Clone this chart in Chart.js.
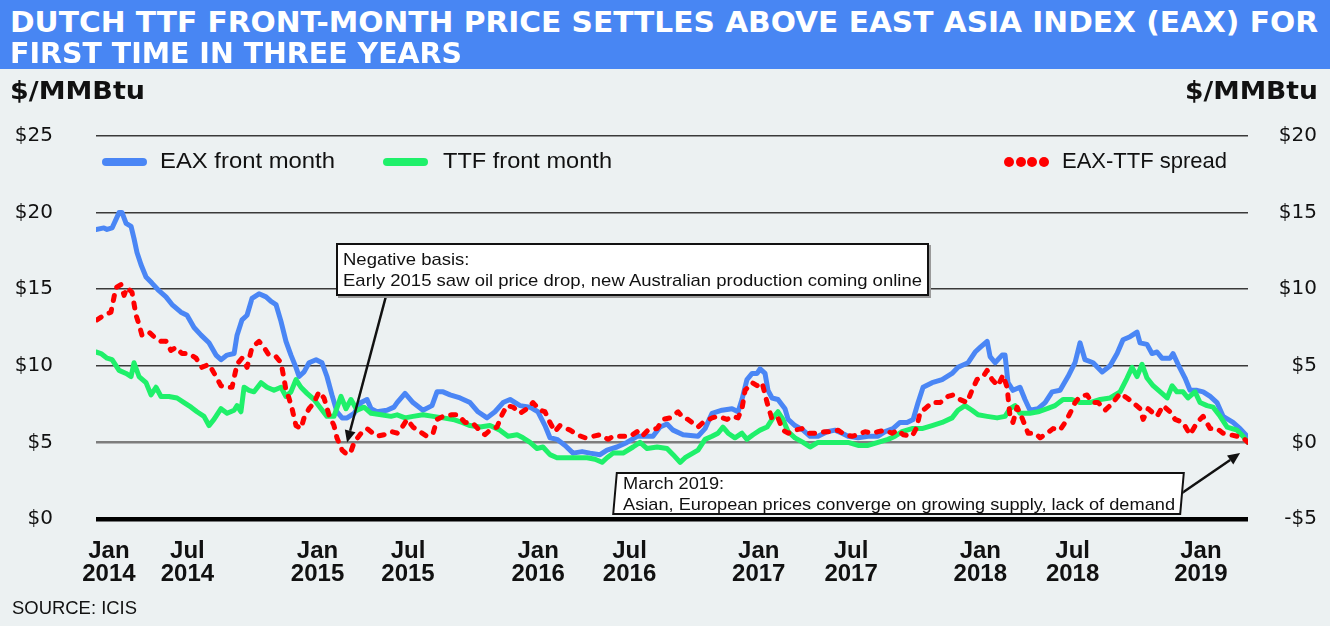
<!DOCTYPE html>
<html><head><meta charset="utf-8">
<script src="https://cdn.jsdelivr.net/npm/chart.js@4.4.1/dist/chart.umd.min.js"></script>
<style>
html,body{margin:0;padding:0;background:#ecf1f2;}
#wrap{position:relative;width:1330px;height:626px;overflow:hidden;background:#ecf1f2;}
#chart{position:absolute;left:0;top:0;}
#banner{position:absolute;left:0;top:0;width:1330px;height:69px;background:#4886f3;}
.t{position:absolute;white-space:nowrap;line-height:1;transform-origin:0 0;color:#111;font-family:'Liberation Sans',Arial,sans-serif;}
.title{font-family:'DejaVu Sans',sans-serif;font-weight:700;font-size:29px;color:#fff;}
.unit{font-family:'DejaVu Sans',sans-serif;font-weight:700;font-size:24px;}
.leg{font-size:22px;}
.note{font-size:17px;}
.box{position:absolute;box-sizing:border-box;background:#fff;border:2px solid #111;}
.bar{position:absolute;height:8px;border-radius:4px;}
.dot{position:absolute;width:10px;height:10px;border-radius:5px;background:#ff0000;}
</style>
</head><body>
<div id="wrap">
<canvas id="chart" width="1330" height="626"></canvas>
<div id="banner"></div>
<span class="t title" id="title1" style="left:10px;top:7.5px">DUTCH TTF FRONT-MONTH PRICE SETTLES ABOVE EAST ASIA INDEX (EAX) FOR</span>
<span class="t title" id="title2" style="left:10px;top:38.5px">FIRST TIME IN THREE YEARS</span>
<span class="t unit" id="unitL" style="left:10px;top:78.7px">$/MMBtu</span>
<span class="t unit" id="unitR" style="left:1185px;top:78.7px">$/MMBtu</span>

<div class="bar" style="left:102px;top:157.7px;width:45px;background:#4a86f5"></div>
<span class="t leg" id="leg1" style="left:160px;top:150.4px">EAX front month</span>
<div class="bar" style="left:383px;top:157.7px;width:45px;background:#1ff06a"></div>
<span class="t leg" id="leg2" style="left:443px;top:150.4px">TTF front month</span>
<div class="dot" style="left:1004px;top:156.7px"></div>
<div class="dot" style="left:1015.7px;top:156.7px"></div>
<div class="dot" style="left:1027.4px;top:156.7px"></div>
<div class="dot" style="left:1039px;top:156.7px"></div>
<span class="t leg" id="leg3" style="left:1062px;top:150.4px">EAX-TTF spread</span>

<div class="box" style="left:336px;top:243px;width:593px;height:53px;box-shadow:2px 2px 0 #9a9a9a"></div>
<span class="t note" id="n1a" style="left:343px;top:250.6px">Negative basis:</span>
<span class="t note" id="n1b" style="left:343px;top:272.3px">Early 2015 saw oil price drop, new Australian production coming online</span>

<div class="box" style="left:614px;top:472px;width:569px;height:43px;transform:skewX(-5deg)"></div>
<span class="t note" id="n2a" style="left:623px;top:474.6px">March 2019:</span>
<span class="t note" id="n2b" style="left:623px;top:495.6px">Asian, European prices converge on growing supply, lack of demand</span>

<span class="t" id="src" style="left:12px;top:598px;font-size:19px">SOURCE: ICIS</span>
</div>
<script>
// ---------- data (months since 1 Jan 2014) ----------
const eaxMonths = [0,0.43,0.6,0.87,1.25,1.41,1.63,1.9,2.06,2.22,2.44,2.71,3.03,3.41,3.79,4.12,4.6,4.93,5.31,5.69,6.12,6.5,6.77,7.1,7.48,7.64,7.91,8.18,8.45,8.83,9.21,9.48,9.75,10.02,10.29,10.56,10.83,11,11.27,11.54,11.92,12.24,12.51,12.78,13.05,13.33,13.6,13.98,14.36,14.68,14.9,15.22,15.76,16.14,16.31,16.74,17.17,17.71,18.2,18.47,18.8,19.18,19.72,20.26,20.69,21.18,21.61,22.05,22.43,22.97,23.51,23.94,24.32,24.59,24.97,25.41,25.84,26.33,26.76,27.3,27.68,28.22,28.76,29.31,29.85,30.17,30.55,30.93,31.26,31.8,32.61,32.99,33.37,33.91,34.45,34.78,34.99,35.26,35.54,35.81,35.97,36.24,36.4,36.62,36.94,37.32,37.49,37.86,38.3,38.68,39.11,39.6,40.03,40.41,40.74,41.28,41.82,42.36,42.74,43.17,43.55,43.93,44.26,44.53,44.8,45.29,45.83,46.37,46.69,47.24,47.62,47.89,48.27,48.43,48.7,49.08,49.24,49.4,49.67,50.05,50.32,50.59,51.03,51.41,51.79,52.22,52.65,53.03,53.3,53.57,54.01,54.5,54.93,55.31,55.63,56.01,56.39,56.55,56.93,57.2,57.47,57.74,58.18,58.34,58.61,58.99,59.26,59.64,59.97,60.35,60.72,61.05,61.59,61.97,62.35,62.4];
const eaxPrices = [18.9,19.0,18.9,19.0,20.0,20.0,19.3,19.1,18.3,17.4,16.6,15.8,15.4,14.9,14.5,14.0,13.5,13.3,12.5,12.0,11.5,10.7,10.4,10.7,10.8,12.0,13.0,13.3,14.4,14.7,14.5,14.2,14.0,12.9,11.6,10.7,9.9,9.3,9.6,10.2,10.4,10.2,9.3,8.1,7.0,6.6,6.6,6.9,7.6,7.8,7.2,7.0,7.1,7.3,7.6,8.2,7.6,7.1,7.4,8.3,8.3,8.1,7.9,7.6,7.0,6.6,7.0,7.6,7.8,7.4,7.3,7.0,6.1,5.3,5.2,4.8,4.3,4.4,4.3,4.2,4.5,4.7,5.0,5.4,5.4,5.4,6.0,6.2,5.8,5.5,5.4,5.9,6.9,7.1,7.2,7.0,7.8,9.1,9.5,9.5,9.8,9.5,8.4,7.9,7.8,7.2,6.5,6.1,5.8,5.4,5.4,5.7,5.8,5.6,5.4,5.3,5.4,5.4,5.7,5.9,6.3,6.3,6.5,7.6,8.6,8.9,9.1,9.5,9.9,10.2,10.9,11.2,11.6,10.6,10.2,10.7,10.7,8.9,8.4,8.6,7.8,7.1,7.2,7.6,8.3,8.4,9.3,10.2,11.5,10.4,10.2,9.6,10.0,10.8,11.7,11.9,12.2,11.5,11.4,10.8,10.9,10.5,10.5,10.8,10.1,9.2,8.4,8.4,8.3,8.0,7.6,6.7,6.3,5.9,5.4,5.0];

const ttfMonths = [0,0.27,0.6,0.87,1.25,1.63,1.9,2.06,2.33,2.71,2.98,3.25,3.52,3.95,4.39,4.77,5.15,5.47,5.85,6.12,6.39,6.77,7.1,7.48,7.64,7.85,8.02,8.29,8.56,8.94,9.26,9.64,10.02,10.29,10.56,10.83,11.1,11.43,11.81,12.19,12.51,12.89,13.27,13.54,13.81,14.14,14.52,14.9,15.44,15.98,16.31,16.74,17.17,17.71,18.26,18.8,19.34,19.83,20.26,20.8,21.34,21.88,22.32,22.81,23.13,23.51,23.89,24.21,24.59,24.97,25.51,26.06,26.6,27.03,27.41,27.68,28.01,28.55,29.09,29.47,29.85,30.39,30.93,31.26,31.64,31.91,32.61,32.99,33.37,33.69,33.96,34.24,34.61,34.99,35.26,35.59,35.97,36.35,36.67,36.94,37.21,37.49,37.86,38.3,38.68,39.11,39.65,40.19,40.74,41.28,41.82,42.36,42.9,43.28,43.66,44.2,44.74,45.29,45.83,46.37,46.69,47.07,47.45,47.78,48.27,48.81,49.24,49.51,49.78,50.05,50.59,51.03,51.52,51.95,52.38,52.87,53.3,53.84,54.39,54.93,55.47,55.85,56.12,56.39,56.66,56.93,57.26,57.74,58.02,58.29,58.55,58.88,59.15,59.53,59.8,60.18,60.51,60.89,61.27,61.81,62.13,62.4];
const ttfPrices = [10.9,10.8,10.5,10.4,9.7,9.5,9.3,10.2,9.3,8.9,8.1,8.6,8.0,8.0,7.9,7.6,7.3,7.0,6.7,6.1,6.5,7.2,6.9,7.1,7.4,7.0,8.6,8.4,8.3,8.9,8.6,8.4,8.6,8.0,8.3,9.1,8.6,8.2,7.8,7.2,6.7,6.7,8.0,7.2,7.8,7.1,7.3,6.9,6.8,6.7,6.8,6.6,6.7,6.8,6.7,6.6,6.5,6.3,6.1,6.0,6.1,5.8,5.4,5.5,5.3,5.0,4.6,4.7,4.2,4.0,4.0,4.0,4.0,3.9,3.7,4.0,4.3,4.3,4.7,5.0,4.6,4.7,4.6,4.2,3.7,4.0,4.5,5.2,5.4,5.6,6.0,5.6,5.3,5.6,5.2,5.5,5.8,6.0,6.6,7.0,6.5,5.7,5.3,5.0,4.7,5.0,5.0,5.0,5.0,4.8,4.8,5.0,5.2,5.4,5.7,5.9,5.9,6.1,6.3,6.6,7.1,7.4,7.1,6.8,6.7,6.6,6.7,7.2,7.4,6.9,6.9,7.0,7.2,7.4,7.8,7.8,7.6,7.6,7.8,7.9,8.3,9.2,9.9,9.3,10.1,9.2,8.7,8.2,7.9,8.7,8.3,8.3,7.9,8.3,7.6,7.4,7.3,6.7,6.0,5.8,5.4,5.0];

const spreadMonths = [0.05,0.43,0.81,1.08,1.35,1.52,1.68,1.95,2.17,2.33,2.49,2.87,3.14,3.52,3.79,4.06,4.33,4.66,5.04,5.42,5.74,6.12,6.5,6.77,7.1,7.37,7.64,7.91,8.18,8.45,8.83,9.1,9.37,9.75,10.02,10.18,10.29,10.45,10.62,10.83,11.1,11.27,11.54,11.81,12.08,12.35,12.62,12.89,13.05,13.33,13.6,13.81,13.98,14.36,14.68,15.22,15.6,16.03,16.31,16.58,16.85,17.17,17.55,17.93,18.26,18.47,18.8,19.29,19.61,19.99,20.37,20.69,21.07,21.34,21.72,21.99,22.26,22.59,22.97,23.35,23.67,24.05,24.32,24.59,24.86,25.13,25.68,26.06,26.49,26.92,27.3,27.74,28.01,28.49,28.93,29.31,29.58,29.9,30.39,30.71,31.09,31.53,31.8,32.07,32.29,32.61,32.88,33.37,33.69,34.18,34.45,34.78,34.99,35.16,35.54,35.81,36.08,36.35,36.62,36.94,37.21,37.49,37.86,38.24,38.57,39.06,39.49,39.87,40.19,40.57,40.95,41.28,41.66,42.04,42.36,42.74,43.12,43.44,43.72,44.2,44.47,44.64,44.91,45.29,45.72,46.15,46.42,46.8,47.18,47.45,47.72,48.05,48.27,48.54,48.86,49.13,49.35,49.51,49.67,49.89,50.16,50.49,50.87,51.14,51.52,51.84,52.22,52.49,52.76,53.03,53.3,53.68,53.95,54.28,54.66,55.09,55.47,55.85,56.17,56.55,56.72,56.99,57.47,57.8,58.18,58.45,58.88,59.26,59.64,59.97,60.35,60.72,61.05,61.43,61.81,62.13,62.4];
const spreadValues = [8.0,8.3,8.5,10.1,10.3,9.6,10.1,9.8,8.3,7.7,7.0,7.2,6.9,6.6,6.6,6.0,6.2,5.8,5.8,5.5,4.9,5.1,4.3,3.7,3.6,3.6,5.1,5.5,4.9,6.2,6.6,6.2,5.7,5.6,5.2,4.2,3.4,2.9,2.2,1.1,0.9,1.6,2.2,2.6,3.3,2.9,1.8,1.1,0.3,-0.5,-0.8,-0.6,0.0,0.6,0.9,0.4,0.5,0.7,0.6,1.0,1.5,1.0,0.7,0.4,0.6,1.5,1.7,1.8,1.8,1.3,1.3,0.9,0.5,0.8,1.0,1.8,2.4,2.3,1.9,2.2,2.6,2.1,2.0,1.3,0.7,1.1,0.8,0.5,0.3,0.4,0.5,0.2,0.4,0.4,0.4,0.7,0.4,0.8,0.9,1.5,1.6,2.0,1.6,1.5,1.3,1.0,1.3,1.6,1.7,1.5,1.7,1.6,2.2,3.4,3.9,3.7,3.9,2.6,1.5,1.6,0.8,0.6,0.8,0.9,0.6,0.6,0.7,0.7,0.8,0.5,0.4,0.5,0.7,0.6,0.7,0.8,0.6,0.8,0.5,0.4,1.0,2.0,2.2,2.6,2.6,3.0,3.1,2.8,2.6,3.4,4.1,4.3,4.7,4.1,3.7,4.4,3.6,1.7,1.3,2.3,1.6,0.6,0.6,0.3,0.6,0.9,0.8,1.3,1.9,2.6,3.0,3.1,2.6,2.6,2.1,2.6,3.2,2.9,2.6,2.2,1.5,2.2,1.7,2.4,2.0,1.5,1.3,0.5,1.3,1.7,0.9,0.9,0.6,0.5,0.4,0.3,0.0];

const tickMonths = [0.7,4.95,12.0,16.9,23.95,28.9,35.9,40.9,47.9,52.9,59.85];
const tickLabels = ['Jan 2014','Jul 2014','Jan 2015','Jul 2015','Jan 2016','Jul 2016','Jan 2017','Jul 2017','Jan 2018','Jul 2018','Jan 2019'];
const leftTicks = [0,5,10,15,20,25];
const noteTipMonths = [13.6, 61.97];
const noteTipPrices = [5.0, 4.3];
const noteTails = [[386,296],[1182,493]];

// ---------- text fitting ----------
function fit(id, w){ const el=document.getElementById(id); const r=el.getBoundingClientRect().width; const s=w/r; el.style.transform='scaleX('+s+')'; return s; }
function scaleBy(id, s){ document.getElementById(id).style.transform='scaleX('+s+')'; }
fit('title1',1308); fit('title2',452);
fit('unitL',135); fit('unitR',133);
fit('leg1',175); fit('leg2',169); fit('leg3',165);
scaleBy('n1a', fit('n1b',579));
scaleBy('n2a', fit('n2b',552));
fit('src',125);

// ---------- chart ----------
const toXY = (xs, ys) => xs.map((m,i)=>({x:m, y:ys[i]}));

const arrowPlugin = {
  id:'arrows',
  afterDatasetsDraw(chart){
    const {ctx, scales} = chart;
    ctx.save();
    ctx.strokeStyle='#111'; ctx.fillStyle='#111'; ctx.lineWidth=2.5;
    noteTipMonths.forEach((m,i)=>{
      const tx=scales.x.getPixelForValue(m), ty=scales.y.getPixelForValue(noteTipPrices[i]);
      const [sx,sy]=noteTails[i];
      const ang=Math.atan2(ty-sy, tx-sx), L=12, W=5.5;
      const bx=tx-L*Math.cos(ang), by=ty-L*Math.sin(ang);
      ctx.beginPath(); ctx.moveTo(sx,sy); ctx.lineTo(bx,by); ctx.stroke();
      ctx.beginPath(); ctx.moveTo(tx,ty);
      ctx.lineTo(bx+W*Math.sin(ang), by-W*Math.cos(ang));
      ctx.lineTo(bx-W*Math.sin(ang), by+W*Math.cos(ang));
      ctx.closePath(); ctx.fill();
    });
    ctx.restore();
  }
};

new Chart(document.getElementById('chart'), {
  type:'line',
  data:{ datasets:[
    {label:'EAX-TTF spread', data:toXY(spreadMonths, spreadValues), yAxisID:'y2', borderColor:'#ff0000', borderWidth:5, borderDash:[5,9], borderCapStyle:'round', borderJoinStyle:'round', pointRadius:0, order:0},
    {label:'TTF front month', data:toXY(ttfMonths, ttfPrices), yAxisID:'y', borderColor:'#1ff06a', borderWidth:5, borderCapStyle:'round', borderJoinStyle:'round', pointRadius:0, order:1},
    {label:'EAX front month', data:toXY(eaxMonths, eaxPrices), yAxisID:'y', borderColor:'#4a86f5', borderWidth:5, borderCapStyle:'round', borderJoinStyle:'round', pointRadius:0, order:2}
  ]},
  options:{
    responsive:false, animation:false, devicePixelRatio:1,
    layout:{padding:{top:136,left:0,right:13,bottom:0}},
    plugins:{legend:{display:false}, tooltip:{enabled:false}},
    elements:{line:{tension:0}},
    scales:{
      x:{type:'linear', min:0, max:62.4,
        afterFit:s=>{s.height=107;},
        afterBuildTicks:s=>{ s.ticks = tickMonths.map(v=>({value:v})); },
        grid:{display:false}, border:{display:false},
        ticks:{autoSkip:false, maxRotation:0, minRotation:0, padding:13, color:'#111',
          font:{family:'Liberation Sans', weight:'bold', size:24, lineHeight:0.96},
          callback:(v,i)=>tickLabels[i].split(' ')}
      },
      y:{position:'left', min:0, max:25,
        afterFit:s=>{s.width=96;},
        afterBuildTicks:s=>{ s.ticks = leftTicks.map(v=>({value:v})); },
        border:{display:false},
        grid:{drawTicks:false,
          color:c=>c.tick.value===0?'#000':(c.tick.value===5?'#7d7d7d':'#3a3a3a'),
          lineWidth:c=>c.tick.value===0?4.5:(c.tick.value===5?2.5:1.6)},
        ticks:{padding:43, color:'#111', font:{family:'DejaVu Sans', size:20},
          callback:v=>'$'+v}
      },
      y2:{position:'right', min:-5, max:20,
        afterFit:s=>{s.width=69;},
        afterBuildTicks:s=>{ s.ticks = leftTicks.map(v=>({value:v-5})); },
        border:{display:false}, grid:{display:false, drawTicks:false},
        ticks:{crossAlign:'far', padding:10, color:'#111', font:{family:'DejaVu Sans', size:20},
          callback:v=> v<0 ? '-$'+Math.abs(v) : '$'+v}
      }
    }
  },
  plugins:[arrowPlugin]
});
</script>
</body></html>
